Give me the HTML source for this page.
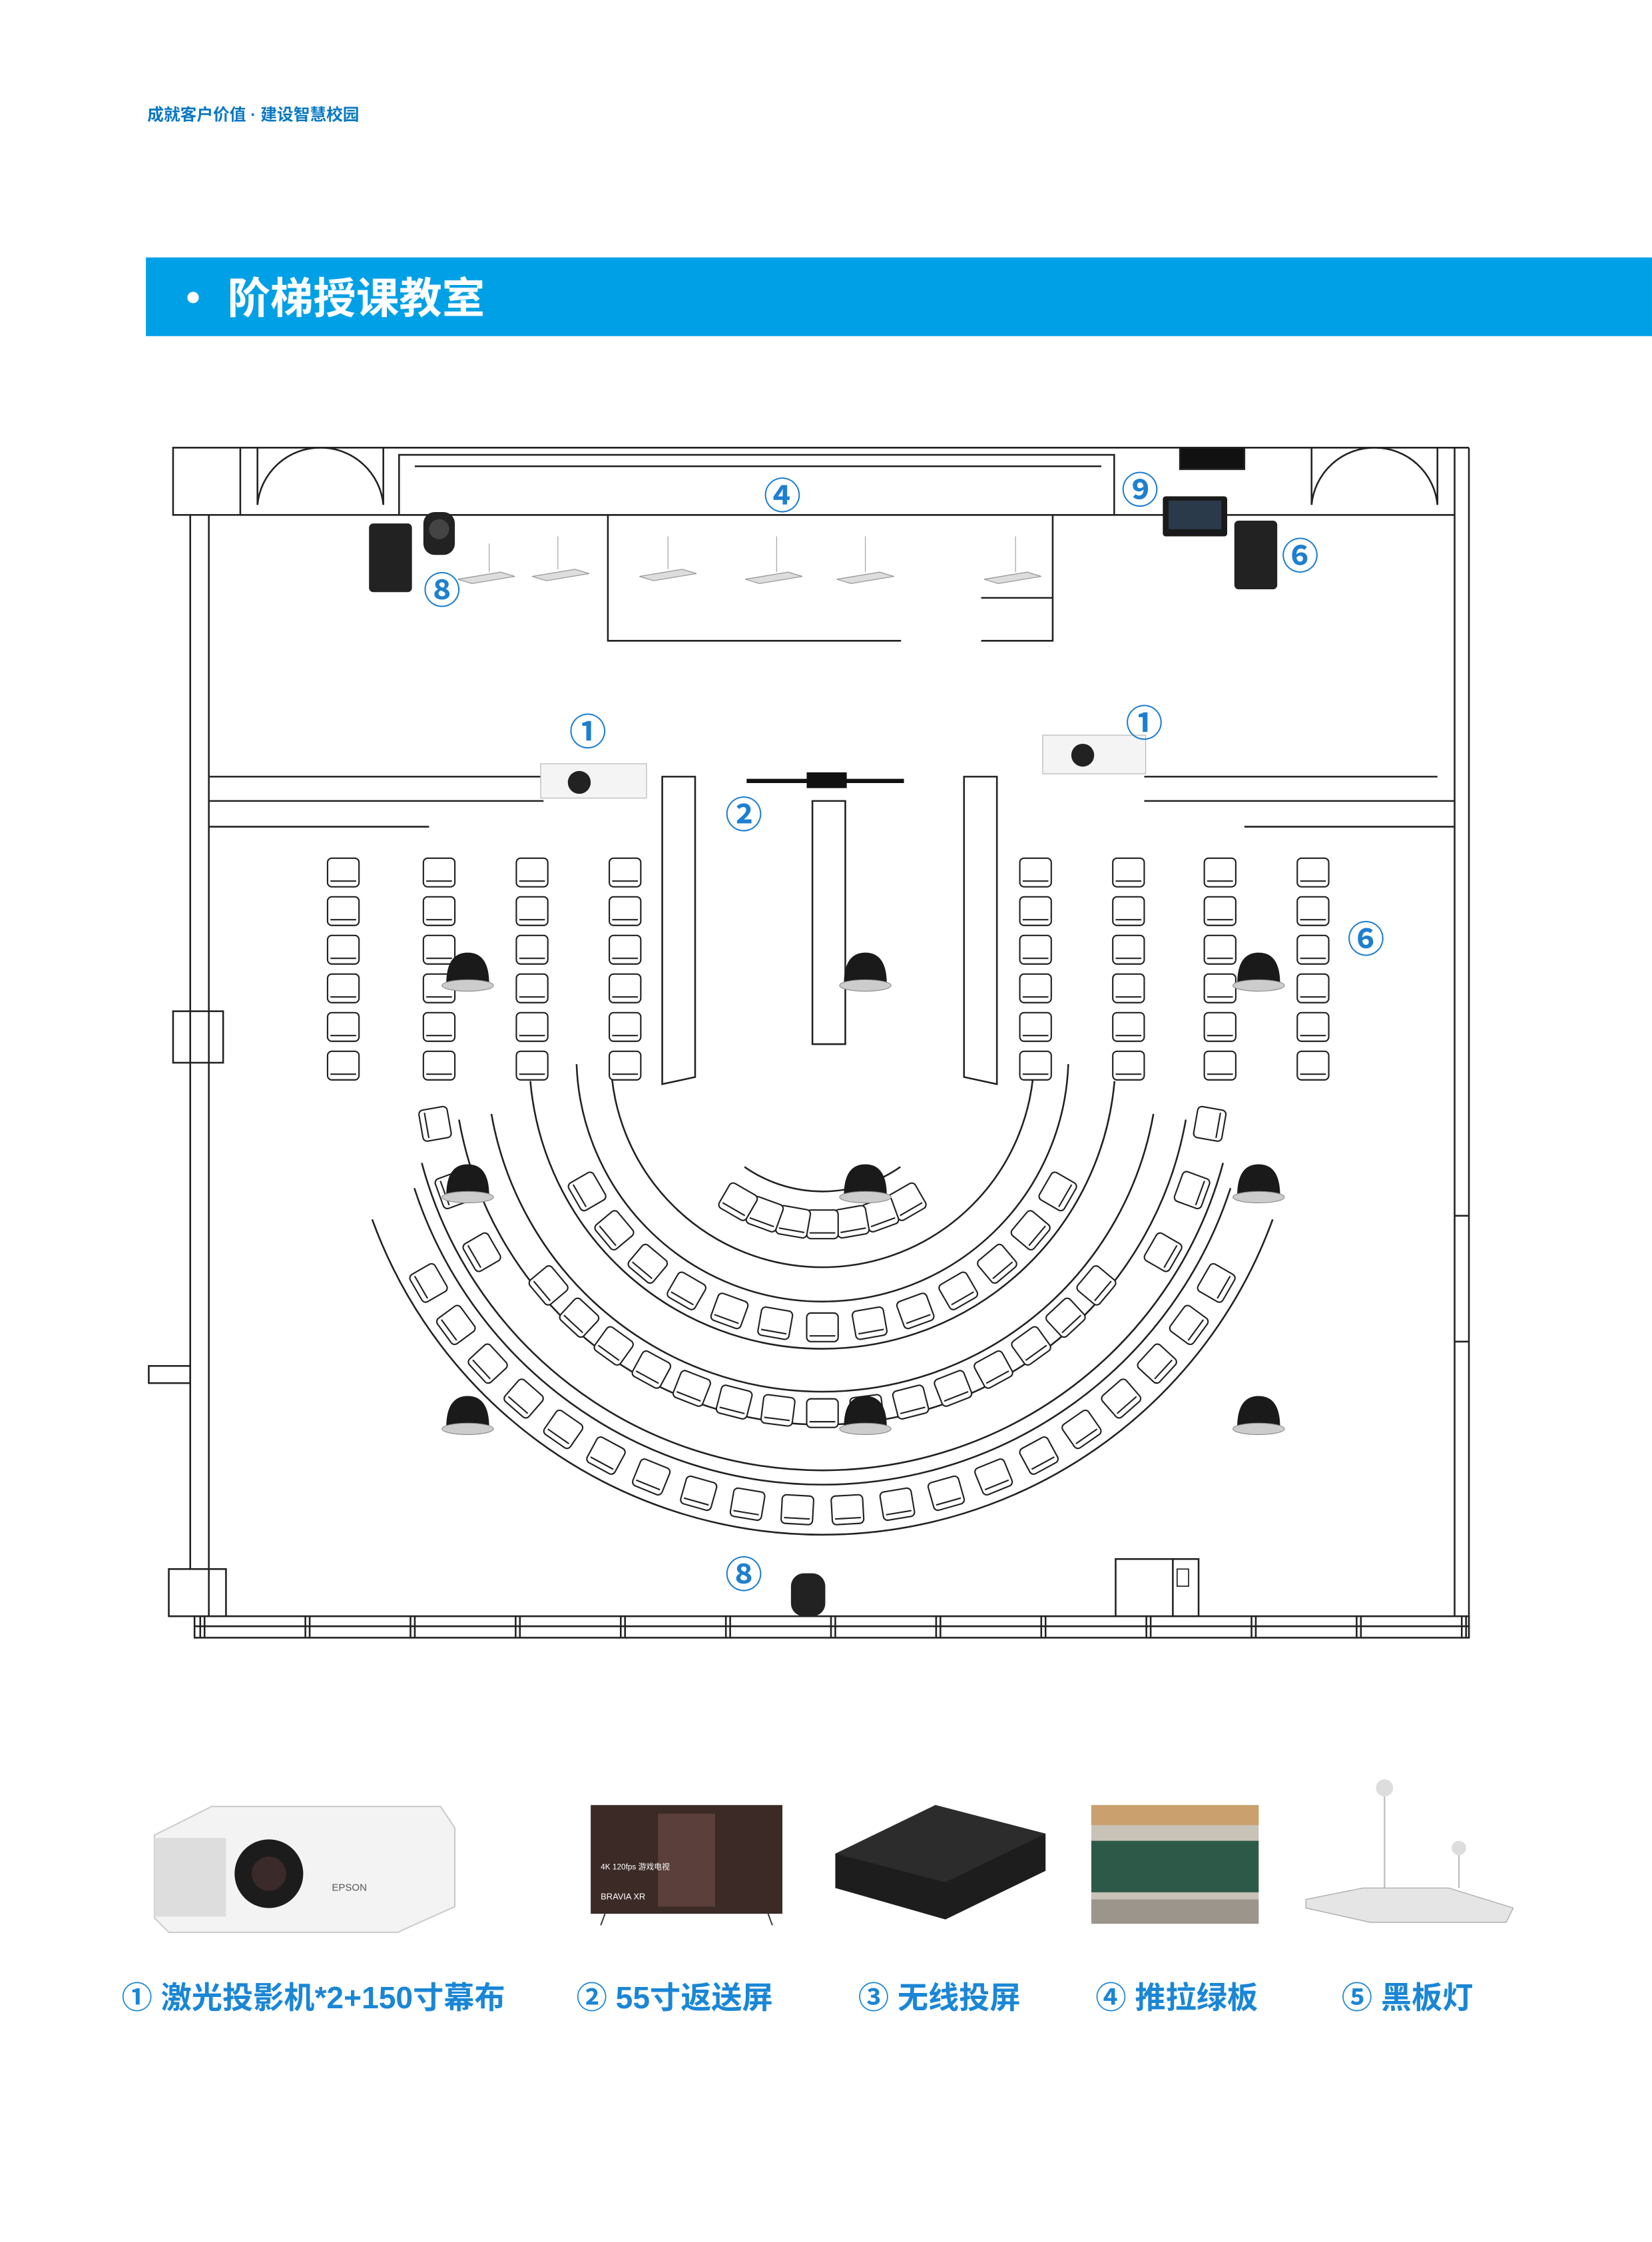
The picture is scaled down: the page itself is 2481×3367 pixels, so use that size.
<!DOCTYPE html>
<html><head><meta charset="utf-8">
<style>
html,body{margin:0;padding:0;background:#fff;}
svg{display:block;}
text{font-family:"Liberation Sans","Noto Sans CJK SC",sans-serif;}
</style></head>
<body>
<svg id="s" width="2481" height="3367" viewBox="0 0 1155 1567.5" xmlns="http://www.w3.org/2000/svg">
<rect width="1155" height="1568" fill="#fff"/>
<text x="103" y="84" font-size="11.5" fill="#0a78c2" font-weight="bold">成就客户价值 · 建设智慧校园</text>
<rect x="102" y="180" width="1053" height="55" fill="#00a0e6"/>
<circle cx="135" cy="208" r="4" fill="#fff"/>
<text x="159" y="219" font-size="30" font-weight="bold" fill="#fff">阶梯授课教室</text>

<g id="plan" fill="none" stroke="#222" stroke-width="1.2">
<rect x="121" y="313" width="47" height="47"/>
<line x1="168" y1="313" x2="1027" y2="313"/>
<line x1="168" y1="360" x2="1017" y2="360"/>
<line x1="1017" y1="313" x2="1017" y2="1130"/>
<line x1="1027" y1="313" x2="1027" y2="1145"/>
<line x1="133" y1="360" x2="133" y2="1097"/>
<line x1="146" y1="360" x2="146" y2="1130"/>
<rect x="121" y="707" width="35" height="36"/>
<rect x="104" y="955" width="29" height="12"/>
<rect x="118" y="1097" width="40" height="33"/>
<rect x="136" y="1130" width="891" height="15"/>
<line x1="136" y1="1137" x2="1027" y2="1137"/>
<g id="mull"></g>
<line x1="1017" y1="850" x2="1027" y2="850"/><line x1="1017" y1="938" x2="1027" y2="938"/>
<path d="M180 313 v40 M180 353 a44 44 0 0 1 44 -40 M268 313 v40 M268 353 a44 44 0 0 0 -44 -40"/>
<path d="M917 313 v40 M917 353 a44 44 0 0 1 44 -40 M1005 313 v40 M1005 353 a44 44 0 0 0 -44 -40"/>
<rect x="279" y="318" width="500" height="42"/>
<line x1="290" y1="326" x2="770" y2="326"/>
<rect x="825" y="313" width="45" height="15" fill="#111"/>
<path d="M425 360 v88 h205 M686 448 h50 v-88"/>
<path d="M686 418 h50"/>
<path d="M146 543 H380 M146 560 H380 M146 578 H300"/>
<path d="M800 543 H1005 M800 560 H1017 M870 578 H1017"/>
<path d="M463 543 h23 v210 l-23 5 z"/>
<path d="M568 560 h23 v170 h-23 z"/>
<path d="M674 543 h23 v215 l-23 -5 z"/>
<g id="arcs"></g>
<rect x="780" y="1090" width="58" height="40"/>
<line x1="820" y1="1090" x2="820" y2="1130"/>
<rect x="823" y="1097" width="8" height="12" stroke-width="0.8"/>
</g>
<g id="seats" fill="#fff" stroke="#222" stroke-width="1"></g>

<g id="dev">
<g fill="#ddd" stroke="#999" stroke-width="0.6">
<path d="M320 405 l30 -5 l10 3 l-30 5z"/><path d="M372 403 l30 -5 l10 3 l-30 5z"/>
<path d="M447 403 l30 -5 l10 3 l-30 5z"/><path d="M521 405 l30 -5 l10 3 l-30 5z"/>
<path d="M585 405 l30 -5 l10 3 l-30 5z"/><path d="M688 405 l30 -5 l10 3 l-30 5z"/>
</g>
<g stroke="#aaa" stroke-width="0.6"><line x1="342" y1="380" x2="342" y2="400"/><line x1="390" y1="375" x2="390" y2="398"/><line x1="467" y1="375" x2="467" y2="398"/><line x1="543" y1="375" x2="543" y2="400"/><line x1="605" y1="375" x2="605" y2="400"/><line x1="710" y1="375" x2="710" y2="400"/></g>
<rect x="258" y="366" width="30" height="48" rx="3" fill="#222"/>
<rect x="863" y="364" width="30" height="48" rx="3" fill="#222"/>
<g fill="#222"><rect x="296" y="358" width="22" height="30" rx="8"/><circle cx="307" cy="370" r="7" fill="#444"/>
<rect x="553" y="1100" width="24" height="30" rx="9"/></g>
<rect x="813" y="347" width="45" height="28" rx="2" fill="#1a1a1a"/><rect x="817" y="350" width="37" height="20" fill="#2b3a4a"/>
<line x1="522" y1="546" x2="632" y2="546" stroke="#111" stroke-width="3"/><rect x="564" y="540" width="28" height="11" fill="#111"/>
<g><rect x="378" y="534" width="74" height="24" fill="#f4f4f4" stroke="#bbb" stroke-width="0.6"/><circle cx="405" cy="547" r="8" fill="#222"/>
<rect x="729" y="514" width="72" height="27" fill="#f4f4f4" stroke="#bbb" stroke-width="0.6"/><circle cx="757" cy="528" r="8" fill="#222"/></g>
<g id="spk"></g>
</g>

<g fill="#1e7fd0" font-size="26" font-weight="bold" text-anchor="middle">
<text x="411" y="521">①</text><text x="800" y="515">①</text>
<text x="520" y="579">②</text><text x="547" y="356">④</text>
<text x="797" y="352">⑨</text><text x="909" y="398">⑥</text>
<text x="955" y="666">⑥</text><text x="309" y="422">⑧</text><text x="520" y="1110">⑧</text>
</g>

<g>
<path d="M108 1283 l40 -20 h160 l10 15 v55 l-40 18 h-160 l-10 -10z" fill="#f3f3f3" stroke="#ccc"/>
<rect x="108" y="1285" width="50" height="55" fill="#ddd"/>
<circle cx="188" cy="1310" r="24" fill="#1c1c1c"/><circle cx="188" cy="1310" r="12" fill="#3a2a2a"/>
<text x="232" y="1322" font-size="7" fill="#555">EPSON</text>
<rect x="413" y="1262" width="134" height="76" fill="#3b2a26"/>
<rect x="460" y="1268" width="40" height="65" fill="#5a3f3a"/>
<text x="420" y="1307" font-size="5.5" fill="#fff">4K 120fps 游戏电视</text>
<text x="420" y="1328" font-size="6" fill="#fff">BRAVIA XR</text>
<line x1="423" y1="1338" x2="420" y2="1346" stroke="#444"/><line x1="537" y1="1338" x2="540" y2="1346" stroke="#444"/>
<path d="M584 1296 l70 -34 l77 20 v26 l-70 34 l-77 -22z" fill="#1d1d1d"/>
<path d="M654 1262 l77 20 l-70 34 l-77 -20z" fill="#2c2c2c"/>
<rect x="763" y="1262" width="117" height="83" fill="#c9c2b7"/>
<rect x="763" y="1262" width="117" height="14" fill="#c9a06e"/>
<rect x="763" y="1287" width="117" height="36" fill="#2d5a48"/>
<rect x="763" y="1328" width="117" height="17" fill="#9b958c"/>
<line x1="968" y1="1250" x2="968" y2="1325" stroke="#bbb"/><line x1="1020" y1="1290" x2="1020" y2="1320" stroke="#bbb"/>
<circle cx="968" cy="1250" r="6" fill="#ddd"/><circle cx="1020" cy="1292" r="5" fill="#ddd"/>
<path d="M913 1328 l40 -8 h60 l45 14 l-5 10 h-95 l-45 -10z" fill="#e5e5e5" stroke="#aaa" stroke-width="0.6"/>
</g>
<g fill="#1a86d6" font-size="21.5" font-weight="bold">
<text x="85" y="1404">① 激光投影机*2+150寸幕布</text>
<text x="403" y="1404">② 55寸返送屏</text>
<text x="600" y="1404">③ 无线投屏</text>
<text x="766" y="1404">④ 推拉绿板</text>
<text x="938" y="1404">⑤ 黑板灯</text>
</g>
</svg>
<script>
var NS="http://www.w3.org/2000/svg";
function el(n,a,p){var e=document.createElementNS(NS,n);for(var k in a)e.setAttribute(k,a[k]);p.appendChild(e);return e;}
var arcs=document.getElementById("arcs"),seats=document.getElementById("seats"),spk=document.getElementById("spk"),mull=document.getElementById("mull");
for(var x=140;x<1027;x+=73.5){el("line",{x1:x,y1:1130,x2:x,y2:1145},mull);el("line",{x1:x+3,y1:1130,x2:x+3,y2:1145},mull);}
var cx=575,cy=738;
function arc(r,a0,a1){var s=[cx+r*Math.cos(a0),cy+r*Math.sin(a0)],e=[cx+r*Math.cos(a1),cy+r*Math.sin(a1)];
el("path",{d:"M"+s[0]+" "+s[1]+" A"+r+" "+r+" 0 0 1 "+e[0]+" "+e[1]},arcs);}
var D=Math.PI/180;
[[148,0,180],[172,2,178],[205,5,175],[235,10,170],[258,10,170],[290,15,165],[300,18,162],[335,20,160]].forEach(function(a){arc(a[0],a[1]*D,a[2]*D);});
arc(95,55*D,125*D);
function seat(x,y,ang){var g=el("g",{transform:"translate("+x+","+y+") rotate("+ang+")"},seats);
el("rect",{x:-11,y:-10,width:22,height:20,rx:3},g);el("line",{x1:-9,y1:6,x2:9,y2:6},g);}
function row(r,a0,a1,n){for(var i=0;i<n;i++){var a=(a0+(a1-a0)*i/(n-1))*D;seat(cx+r*Math.cos(a),cy+r*Math.sin(a),a/D-90);}}
row(118,60,120,7);row(190,30,150,13);row(250,40,140,15);row(318,30,150,20);
row(275,150,170,3);row(275,10,30,3);
[240,307,372,437,724,789,853,918].forEach(function(x){for(var y=610;y<=745;y+=27)seat(x,y,0);});
[[327,680],[605,680],[880,680],[327,828],[605,828],[880,828],[327,990],[605,990],[880,990]].forEach(function(p){
el("path",{d:"M"+(p[0]-15)+" "+(p[1]+8)+" q0 -22 15 -22 q15 0 15 22 z",fill:"#1a1a1a"},spk);
el("ellipse",{cx:p[0],cy:p[1]+9,rx:18,ry:4,fill:"#ccc",stroke:"#888","stroke-width":0.5},spk);});
</script>
</body></html>
